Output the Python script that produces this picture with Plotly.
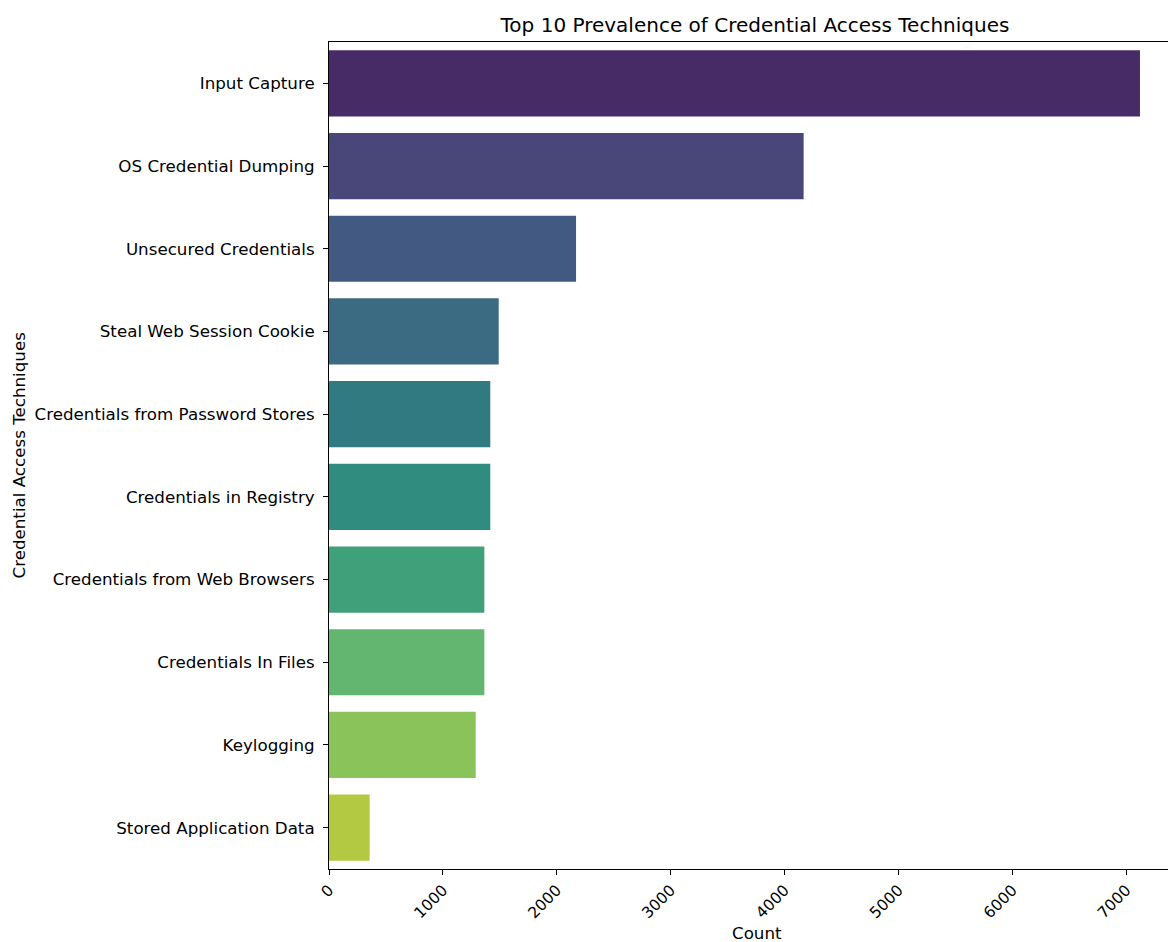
import colorsys
import plotly.graph_objects as go
from plotly.colors import sample_colorscale

techniques = [
    "Input Capture",
    "OS Credential Dumping",
    "Unsecured Credentials",
    "Steal Web Session Cookie",
    "Credentials from Password Stores",
    "Credentials in Registry",
    "Credentials from Web Browsers",
    "Credentials In Files",
    "Keylogging",
    "Stored Application Data",
]
counts = [7120, 4167, 2169, 1490, 1416, 1416, 1364, 1364, 1288, 357]
x_ticks = [0, 1000, 2000, 3000, 4000, 5000, 6000, 7000]

# seaborn-like viridis palette, desaturated by 0.75
n = len(techniques)
positions = [(i + 1) / (n + 1) for i in range(n)]
raw = sample_colorscale("Viridis", positions, colortype="rgb")
colors = []
for c in raw:
    vals = [float(v) / 255 for v in c[c.index("(") + 1:-1].split(",")]
    h, l, s = colorsys.rgb_to_hls(*vals)
    r, g, b = colorsys.hls_to_rgb(h, l, s * 0.75)
    colors.append("rgb(%d,%d,%d)" % (round(r * 255), round(g * 255), round(b * 255)))

W, H = 1168, 942
L, R, T, B = 329, 0, 42, 73
pw = W - L - R
ph = H - T - B

fig = go.Figure(
    go.Bar(
        x=counts,
        y=techniques,
        orientation="h",
        marker=dict(color=colors, line=dict(width=0)),
    )
)

font = "DejaVu Sans, Arial, sans-serif"
fs = 16.7
fig.update_layout(
    width=W,
    height=H,
    margin=dict(l=L, r=R, t=T, b=B, autoexpand=False),
    paper_bgcolor="white",
    plot_bgcolor="white",
    bargap=0.2,
    showlegend=False,
    font=dict(family=font, size=fs, color="black"),
    title=dict(
        text="Top 10 Prevalence of Credential Access Techniques",
        x=755 / W,
        xref="container",
        xanchor="center",
        y=1 - 25 / H,
        yref="container",
        yanchor="middle",
        font=dict(family=font, size=20, color="black"),
    ),
    xaxis=dict(
        range=[0, 7366],
        tickvals=x_ticks,
        ticktext=[str(v) for v in x_ticks],
        tickangle=-45,
        ticks="outside",
        ticklen=5,
        tickcolor="black",
        showline=True,
        linecolor="black",
        linewidth=1,
        mirror=True,
        showgrid=False,
        zeroline=False,
        automargin=False,
        tickfont=dict(family=font, size=15.5, color="black"),
    ),
    yaxis=dict(
        autorange="reversed",
        ticks="outside",
        ticklen=5,
        tickcolor="black",
        showline=True,
        linecolor="black",
        linewidth=1,
        showgrid=False,
        zeroline=False,
        automargin=False,
        ticklabelstandoff=5,
        tickfont=dict(family=font, size=fs, color="black"),
    ),
    annotations=[
        dict(
            text="Count",
            xref="paper",
            yref="paper",
            x=(757 - L) / pw,
            y=(H - B - 933) / ph,
            xanchor="center",
            yanchor="middle",
            showarrow=False,
            font=dict(family=font, size=fs, color="black"),
        ),
        dict(
            text="Credential Access Techniques",
            xref="paper",
            yref="paper",
            x=(18 - L) / pw,
            y=0.5,
            xanchor="center",
            yanchor="middle",
            textangle=-90,
            showarrow=False,
            font=dict(family=font, size=fs, color="black"),
        ),
    ],
)

fig.write_html(
    "out.html",
    config={"displayModeBar": False},
    post_script="document.body.style.margin='0px';document.body.style.overflow='hidden';",
)
